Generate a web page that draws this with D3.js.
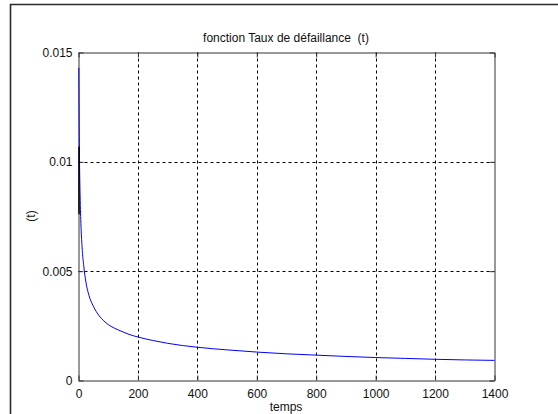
<!DOCTYPE html>
<html>
<head>
<meta charset="utf-8">
<script src="https://cdn.jsdelivr.net/npm/d3@7"></script>
<style>
  html, body { margin: 0; padding: 0; background: #fff; }
  svg { display: block; }
  text { font-family: "Liberation Sans", Arial, sans-serif; fill: #111; white-space: pre; }
</style>
</head>
<body>
<svg id="chart" width="558" height="414"></svg>
<script>
// Failure rate over time (temps), blue curve
const tempsValues = [1, 2, 3, 5, 8, 12, 18, 25, 35, 50, 70, 85, 100, 120, 150, 170, 200, 250, 300, 400, 500, 600, 700, 800, 900, 1000, 1100, 1200, 1300, 1400];
const tauxValues  = [0.0143, 0.0120, 0.0105, 0.0087, 0.0072, 0.0061, 0.0052, 0.0045, 0.0039, 0.0034, 0.00295, 0.00273, 0.00256, 0.00240, 0.00222, 0.00211, 0.00199, 0.00183, 0.00170, 0.00152, 0.00140, 0.00130, 0.00122, 0.00116, 0.00110, 0.00105, 0.00101, 0.00097, 0.00094, 0.00092];

// Short black segment at t = 0
const blackT = [0, 0];
const blackY = [0.0107, 0.0076];

const xTicks = [0, 200, 400, 600, 800, 1000, 1200, 1400];
const yTicks = [0, 0.005, 0.01, 0.015];
const yTickLabels = ["0", "0.005", "0.01", "0.015"];

const titleText = "fonction Taux de défaillance  (t)";
const xLabel = "temps";
const yLabel = "(t)";

const svg = d3.select("#chart");
const L = 78.5, R = 494.5, T = 52.5, B = 380.5;

const x = d3.scaleLinear().domain([0, 1400]).range([L, R]);
const y = d3.scaleLinear().domain([0, 0.015]).range([B, T]);

// outer figure frame (top and left edges)
svg.append("path")
  .attr("d", "M10.5,414 V4.5 H558")
  .attr("fill", "none").attr("stroke", "#2a2a2a").attr("stroke-width", 1.6);

// grid
const grid = svg.append("g").attr("stroke", "#000").attr("stroke-width", 1).attr("stroke-dasharray", "3,3");
xTicks.slice(1, -1).forEach(v => {
  grid.append("line").attr("x1", Math.round(x(v)) + 0.5).attr("x2", Math.round(x(v)) + 0.5).attr("y1", T).attr("y2", B);
});
yTicks.slice(1, -1).forEach(v => {
  grid.append("line").attr("y1", Math.round(y(v)) + 0.5).attr("y2", Math.round(y(v)) + 0.5).attr("x1", L).attr("x2", R);
});

// axes with inward ticks on all sides
const tickLen = 5;
const axB = svg.append("g").attr("transform", `translate(0,${B})`)
  .call(d3.axisBottom(x).tickValues(xTicks).tickSizeInner(-tickLen).tickSizeOuter(0).tickPadding(9).tickFormat(d3.format("d")));
const axT = svg.append("g").attr("transform", `translate(0,${T})`)
  .call(d3.axisTop(x).tickValues(xTicks).tickSizeInner(-tickLen).tickSizeOuter(0).tickFormat(""));
const axL = svg.append("g").attr("transform", `translate(${L},0)`)
  .call(d3.axisLeft(y).tickValues(yTicks).tickSizeInner(-tickLen).tickSizeOuter(0).tickPadding(6)
    .tickFormat((d, i) => yTickLabels[i]));
const axR = svg.append("g").attr("transform", `translate(${R},0)`)
  .call(d3.axisRight(y).tickValues(yTicks).tickSizeInner(-tickLen).tickSizeOuter(0).tickFormat(""));

[axB, axT, axL, axR].forEach(a => {
  a.select(".domain").attr("stroke", "#333");
  a.selectAll(".tick line").attr("stroke", "#333");
  a.selectAll("text").attr("font-size", 12).attr("font-family", "Liberation Sans, Arial, sans-serif").attr("fill", "#111");
});

// curve
const pts = tempsValues.map((t, i) => [t, tauxValues[i]]);
const line = d3.line().x(d => x(d[0])).y(d => y(d[1])).curve(d3.curveMonotoneX);
svg.append("path").datum(pts)
  .attr("d", line)
  .attr("fill", "none").attr("stroke", "#0000ff").attr("stroke-width", 1);

const bpts = blackT.map((t, i) => [t, blackY[i]]);
svg.append("path").datum(bpts)
  .attr("d", d3.line().x(d => x(d[0]) + 0.5).y(d => y(d[1])))
  .attr("fill", "none").attr("stroke", "#000").attr("stroke-width", 1.5);

// labels
svg.append("text").attr("x", 286).attr("y", 42).attr("text-anchor", "middle").attr("font-size", 12).text(titleText);
svg.append("text").attr("x", 286).attr("y", 411).attr("text-anchor", "middle").attr("font-size", 12).text(xLabel);
svg.append("text").attr("transform", "translate(35,216) rotate(-90)").attr("text-anchor", "middle").attr("font-size", 12).text(yLabel);
</script>
</body>
</html>
